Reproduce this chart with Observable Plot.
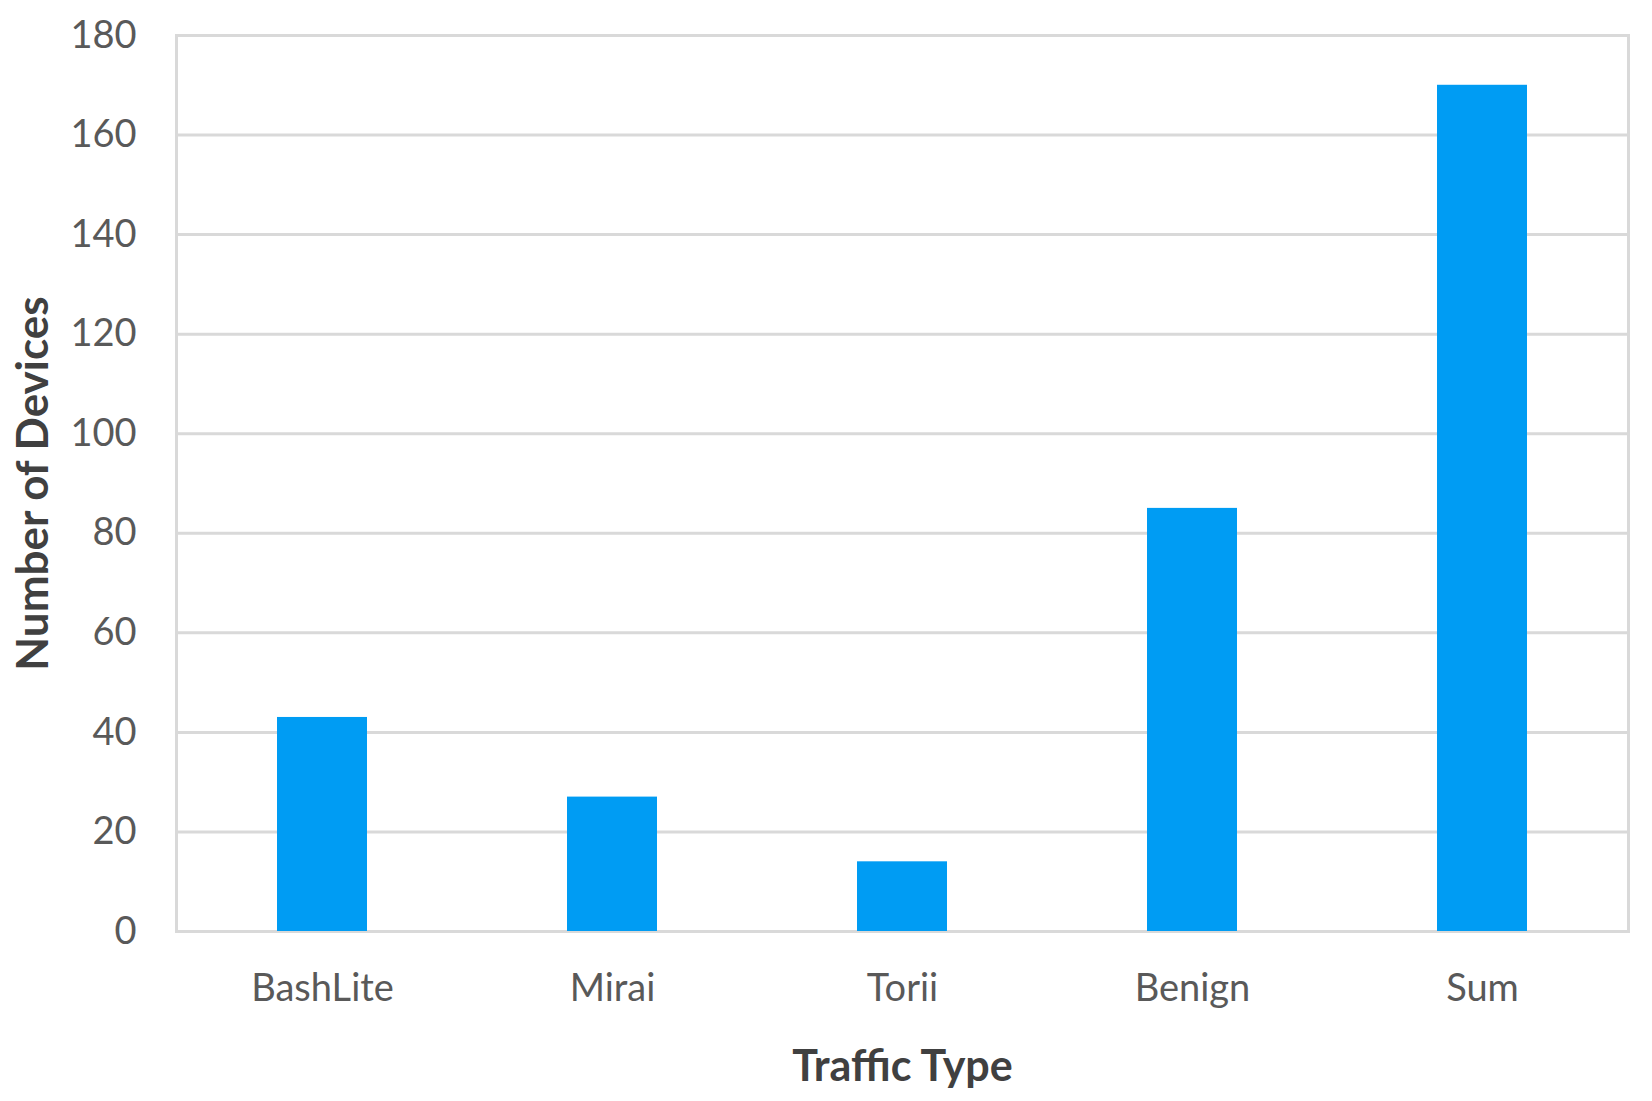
<!DOCTYPE html>
<html><head><meta charset="utf-8">
<script src="https://cdn.jsdelivr.net/npm/d3@7"></script>
<script src="https://cdn.jsdelivr.net/npm/@observablehq/plot@0.6"></script>
<style>body{margin:0;background:#fff}</style>
</head><body><div id="chart"></div>
<script>
const categories = ["BashLite", "Mirai", "Torii", "Benign", "Sum"];
const values = [43, 27, 14, 85, 170];
const yTicks = [0, 20, 40, 60, 80, 100, 120, 140, 160, 180];
const xTitle = "Traffic Type";
const yTitle = "Number of Devices";

const data = categories.map((c, i) => ({type: c, count: values[i]}));

const chart = Plot.plot({
  width: 1652, height: 1101,
  marginLeft: 176, marginRight: 24, marginTop: 35, marginBottom: 170,
  style: {fontFamily: "Lato", fontSize: "38px", color: "#595959", background: "#fff"},
  x: {domain: categories, paddingInner: 0.69, paddingOuter: 0.345, align: 0.5},
  y: {domain: [0, 180], ticks: yTicks},
  marks: [
    Plot.gridY(yTicks, {stroke: "#d9d9d9", strokeWidth: 3, strokeOpacity: 1}),
    Plot.frame({stroke: "#d9d9d9", strokeWidth: 3}),
    Plot.barY(data, {x: "type", y: "count", fill: "#009cf3"}),
    Plot.axisY({ticks: yTicks, tickSize: 0, tickPadding: 40, label: null, fontSize: 38}),
    Plot.axisX({tickSize: 0, tickPadding: 43, label: null, fontSize: 38}),
    Plot.text([yTitle], {frameAnchor: "left", textAnchor: "middle", dx: -143, rotate: -90, fontWeight: "bold", fontSize: 44, fill: "#404040"}),
    Plot.text([xTitle], {frameAnchor: "bottom", textAnchor: "middle", dy: 149, fontWeight: "bold", fontSize: 43, fill: "#404040"})
  ]
});
document.getElementById("chart").appendChild(chart);
</script>
</body></html>
